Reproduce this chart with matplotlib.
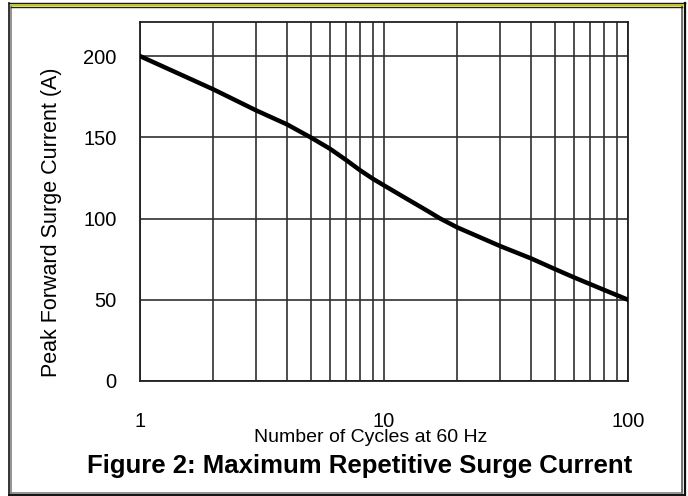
import numpy as np
import matplotlib.pyplot as plt
from matplotlib.lines import Line2D

plt.rcParams['font.family'] = ['Liberation Sans', 'DejaVu Sans']

# values
cycles = [1, 2, 3, 4, 5, 6, 7, 8, 9, 10, 12, 15, 17, 20, 30, 40, 50, 60, 80, 100]
current = [200, 179.5, 166.5, 158, 150, 143, 136, 129.6, 124.5, 120.4,
           113.4, 104.9, 100, 94.5, 83, 75.5, 69, 63.8, 56, 50]
yticks = [0, 50, 100, 150, 200]
xticks = [1, 10, 100]
xticklabels = ['1', '10', '100']

W, H = 688, 496
fig = plt.figure(figsize=(W / 100, H / 100), dpi=100)
ax = fig.add_axes([140 / W, 1 - 381 / H, (628 - 140) / W, (381 - 22) / H])

ax.plot(cycles, current, color='black', lw=3.2, solid_joinstyle='round', zorder=3)
ax.set_xscale('log')
ax.set_xlim(1, 100)
ax.set_ylim(0, 221)
ax.set_yticks(yticks)
ax.set_xticks(xticks)
ax.set_xticklabels(xticklabels)
ax.grid(True, which='both', axis='x', color='#303030', lw=1.2)
ax.grid(True, which='major', axis='y', color='#303030', lw=1.2)
ax.tick_params(which='both', length=0)
ax.tick_params(axis='y', pad=17, labelsize=14.5)
ax.tick_params(axis='x', pad=22, labelsize=14.5)
for s in ax.spines.values():
    s.set_color('#202020')
    s.set_linewidth(1.3)

fig.text(51 / W, 1 - 222 / H, 'Peak Forward Surge Current (A)', rotation=90,
         ha='center', va='center', fontsize=15.5)
fig.text(371 / W, 1 - 438 / H, 'Number of Cycles at 60 Hz',
         ha='center', va='center', fontsize=14)
fig.text(360 / W, 1 - 466 / H, 'Figure 2: Maximum Repetitive Surge Current',
         ha='center', va='center', fontsize=18.5, fontweight='bold')


# frame around the figure, in pixel coordinates from the top left
def frame_line(x0, y0, x1, y1, color, lw):
    fig.lines.append(Line2D([x0 / W, x1 / W], [1 - y0 / H, 1 - y1 / H],
                            transform=fig.transFigure, color=color, lw=lw))


frame_line(8.5, 3, 8.5, 495.5, '#101010', 1.2)
frame_line(10.8, 6, 10.8, 493, '#808080', 1.2)
frame_line(684.5, 3, 684.5, 495.5, '#101010', 1.6)
frame_line(682.3, 6, 682.3, 493, '#707070', 1.4)
frame_line(8.5, 494.8, 684.5, 494.8, '#101010', 1.4)
frame_line(10.8, 492.5, 682.3, 492.5, '#808080', 1.2)
frame_line(8.5, 3.4, 684.5, 3.4, '#101010', 1.0)
frame_line(10.8, 5.0, 682.3, 5.0, '#c8c800', 1.5)
frame_line(10.8, 6.6, 682.3, 6.6, '#202020', 1.0)

fig.savefig('out.png', dpi=100)
